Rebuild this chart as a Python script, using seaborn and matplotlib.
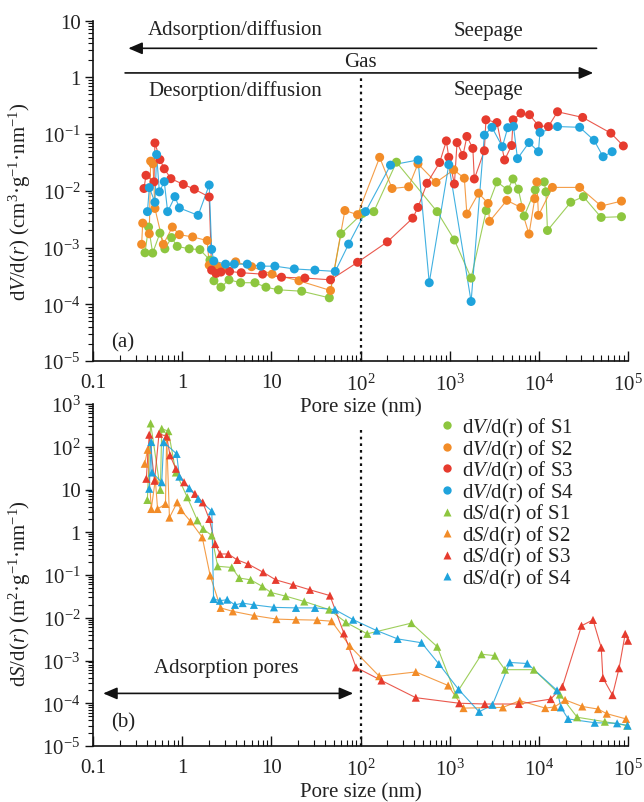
import numpy as np
import pandas as pd
import matplotlib
matplotlib.use("Agg")
import matplotlib.pyplot as plt
import seaborn as sns
from matplotlib.lines import Line2D
from matplotlib.ticker import FixedLocator, FixedFormatter, LogLocator, NullFormatter

# ---------------- data ----------------
samples = ["S1", "S2", "S3", "S4"]
colors = ["#8dc63f", "#f28c28", "#e63b2e", "#1fa3dc"]

# panel (a): dV/d(r)
v_x_s1 = [0.383, 0.42, 0.467, 0.563, 0.64, 0.76, 0.88, 1.2, 1.58, 2.05, 2.27, 2.72, 3.35, 4.52, 6.55, 8.7, 12.0, 21.9, 44.7, 60.3,
          105, 141, 253, 723, 1130, 1740, 2570, 3390, 4480, 5130, 5890, 6850, 9100, 11500, 12000, 12500, 22800, 31600, 50000, 84500]
v_y_s1 = [8.1e-4, 2.3e-3, 8.0e-4, 1.8e-3, 9.5e-4, 1.5e-3, 1.05e-3, 9.5e-4, 9.2e-4, 6.0e-4, 2.6e-4, 2.0e-4, 2.7e-4, 2.4e-4, 2.4e-4,
          2.0e-4, 1.8e-4, 1.7e-4, 1.3e-4, 1.75e-3, 4.0e-3, 4.3e-3, 0.032, 4.3e-3, 1.36e-3, 2.9e-4, 4.5e-3, 0.0144, 0.0104, 0.0162,
          0.0107, 3.6e-3, 0.0104, 0.0144, 9.6e-3, 2.0e-3, 6.3e-3, 7.9e-3, 3.4e-3, 3.5e-3]

v_x_s2 = [0.351, 0.361, 0.428, 0.443, 0.47, 0.495, 0.615, 0.776, 0.93, 1.31, 1.91, 2.01, 2.5, 3.0, 3.98, 6.0, 10.2, 20.4, 46.1, 66.8,
          92.7, 164, 226, 347, 441, 703, 1110, 1460, 1560, 2110, 2700, 2800, 4370, 6290, 7760, 9000, 9500, 9900, 14200, 28700, 50000, 84500]
v_y_s2 = [1.14e-3, 2.7e-3, 1.75e-3, 0.0334, 0.03, 4.9e-3, 1.14e-3, 2.3e-3, 1.69e-3, 1.54e-3, 1.33e-3, 4.9e-4, 4.6e-4, 4.4e-4, 5.6e-4,
          4.6e-4, 3.4e-4, 2.6e-4, 1.75e-4, 4.5e-3, 3.8e-3, 0.039, 0.011, 0.0118, 0.030, 0.0141, 0.0235, 0.0167, 3.9e-3, 9.1e-3,
          6.0e-3, 2.9e-3, 6.8e-3, 5.1e-3, 1.73e-3, 7.3e-3, 0.0144, 3.7e-3, 0.0115, 0.0115, 5.4e-3, 6.6e-3]

v_x_s3 = [0.373, 0.393, 0.483, 0.495, 0.563, 0.63, 0.748, 1.03, 1.37, 2.01, 2.14, 2.4, 2.72, 3.4, 4.6, 7.98, 13.0, 23.8, 46.1, 92.7,
          200, 385, 441, 557, 772, 918, 977, 1130, 1210, 1410, 1560, 1820, 1890, 2450, 2550, 3390, 4130, 4950, 5150, 6290, 7870,
          9900, 12800, 16200, 31000, 64300, 88700]
v_y_s3 = [0.011, 0.0188, 0.0144, 0.070, 0.0356, 0.0245, 0.0164, 0.013, 0.0107, 7.8e-3, 4.0e-4, 3.5e-4, 3.7e-4, 3.8e-4, 3.6e-4,
          3.4e-4, 3.0e-4, 2.9e-4, 2.7e-4, 5.5e-4, 1.26e-3, 3.3e-3, 5.1e-3, 0.0136, 0.0316, 0.076, 0.039, 0.0132, 0.071, 0.042,
          0.091, 0.056, 0.0162, 0.051, 0.179, 0.16, 0.035, 0.063, 0.179, 0.234, 0.22, 0.14, 0.136, 0.248, 0.197, 0.104, 0.062]

v_x_s4 = [0.408, 0.428, 0.495, 0.517, 0.555, 0.63, 0.687, 0.83, 0.93, 1.51, 2.01, 2.14, 2.26, 3.07, 3.84, 5.37, 7.64, 10.96, 18.1,
          30.8, 52.1, 73.6, 114, 217, 442, 590, 977, 1740, 2450, 2980, 3900, 4480, 5200, 5760, 7760, 9900, 10300, 16200, 28700,
          41600, 52600, 66400]
v_y_s4 = [4.3e-3, 0.0114, 6.3e-3, 0.0437, 9.6e-3, 0.0145, 4.3e-3, 7.9e-3, 5.0e-3, 3.7e-3, 0.0127, 9.3e-4, 5.8e-4, 5.1e-4, 5.1e-4,
          5.1e-4, 4.7e-4, 4.7e-4, 4.2e-4, 4.0e-4, 3.8e-4, 1.15e-3, 4.3e-3, 0.0284, 0.035, 2.4e-4, 0.029, 1.12e-4, 0.096, 0.132,
          0.06, 0.13, 0.137, 0.037, 0.071, 0.049, 0.107, 0.136, 0.132, 0.078, 0.04, 0.049]

# panel (b): dS/d(r)
s_x_s1 = [0.407, 0.443, 0.57, 0.59, 0.70, 0.85, 1.14, 1.48, 1.72, 2.14, 2.5, 3.6, 4.37, 5.86, 7.94, 9.9, 14.5, 23.4, 44.6, 68.6,
          119, 373, 725, 1170, 2280, 3210, 4170, 8800, 17200, 26900, 55000, 98000]
s_y_s1 = [5.7, 351, 9.8, 264, 232, 25, 6.6, 1.9, 1.2, 0.84, 0.16, 0.15, 0.085, 0.077, 0.054, 0.039, 0.032, 0.024, 0.0155, 7.8e-3,
          4.2e-3, 7.5e-3, 2.1e-3, 1.6e-4, 1.4e-3, 1.3e-3, 6.1e-4, 6.1e-4, 1.6e-4, 4.7e-5, 3.7e-5, 3.0e-5]

s_x_s2 = [0.38, 0.41, 0.45, 0.50, 0.53, 0.65, 0.67, 0.72, 0.88, 0.97, 1.24, 1.68, 2.06, 2.7, 3.7, 6.45, 11.4, 18.9, 32.7, 47.4,
          75.6, 162, 417, 962, 1430, 3950, 6120, 11800, 15000, 19700, 30700, 46200, 57800, 95000]
s_y_s2 = [40, 85, 3.5, 17, 3.5, 4.6, 168, 2.2, 5.0, 3.3, 1.8, 0.76, 0.097, 0.017, 0.0141, 0.0112, 9.3e-3, 9.0e-3, 8.8e-3, 8.3e-3,
          2.2e-3, 4.3e-4, 5.4e-4, 2.6e-4, 7.7e-5, 8.0e-5, 1.15e-4, 7.7e-5, 8.2e-5, 1.2e-4, 8.4e-5, 7.3e-5, 5.7e-5, 4.3e-5]

s_x_s3 = [0.396, 0.427, 0.49, 0.55, 0.67, 0.73, 0.85, 1.05, 1.39, 1.7, 2.01, 2.35, 2.66, 3.29, 4.15, 5.5, 8.1, 11.2, 17.6, 27.1,
          45.4, 65.2, 89, 172, 417, 1280, 2480, 5970, 13600, 18400, 30100, 40500, 50100, 52300, 67000, 79400, 93000, 100000]
s_y_s3 = [17.8, 191, 16, 201, 175, 63, 30.5, 14.8, 7.9, 5.0, 2.05, 0.53, 0.31, 0.31, 0.225, 0.18, 0.116, 0.077, 0.059, 0.045,
          0.033, 4.3e-3, 6.9e-4, 3.4e-4, 1.35e-4, 1.0e-4, 9.6e-5, 9.6e-5, 1.25e-4, 2.45e-4, 6.5e-3, 8.9e-3, 2.0e-3, 3.9e-4,
          1.55e-4, 6.6e-4, 4.2e-3, 2.9e-3]

s_x_s4 = [0.427, 0.45, 0.46, 0.59, 0.62, 0.867, 0.93, 1.2, 1.51, 2.15, 2.25, 2.65, 3.2, 3.91, 4.77, 6.38, 10.7, 18.9, 30.9, 51.6,
          82.8, 152, 261, 484, 757, 1260, 2140, 3020, 4730, 7420, 16000, 17700, 21300, 42400, 75500, 99000]
s_y_s4 = [10.4, 129, 25, 14.8, 128, 68, 20, 10.7, 6.05, 3.1, 0.0275, 0.025, 0.0265, 0.02, 0.022, 0.02, 0.0175, 0.017, 0.017, 0.0155,
          9.0e-3, 5.0e-3, 3.2e-3, 2.6e-3, 8.3e-4, 2.1e-4, 6.3e-5, 9.2e-5, 9.0e-4, 8.5e-4, 2.0e-4, 8e-5, 4.3e-5, 3.5e-5, 3.4e-5, 3.0e-5]

x_ticks = [0.1, 1, 10, 1e2, 1e3, 1e4, 1e5]
x_ticklabels = ["0.1", "1", "10", r"$\mathregular{10^{2}}$", r"$\mathregular{10^{3}}$",
                r"$\mathregular{10^{4}}$", r"$\mathregular{10^{5}}$"]
ya_ticks = [1e-5, 1e-4, 1e-3, 1e-2, 1e-1, 1, 10]
ya_ticklabels = [r"$\mathregular{10^{-5}}$", r"$\mathregular{10^{-4}}$", r"$\mathregular{10^{-3}}$",
                 r"$\mathregular{10^{-2}}$", r"$\mathregular{10^{-1}}$", "1", "10"]
yb_ticks = [1e-5, 1e-4, 1e-3, 1e-2, 1e-1, 1, 10, 1e2, 1e3]
yb_ticklabels = ya_ticklabels[:-1] + ["10", r"$\mathregular{10^{2}}$", r"$\mathregular{10^{3}}$"]

# ---------------- style ----------------
sns.set_theme(style="ticks")
plt.rcParams["font.family"] = ["Liberation Serif", "DejaVu Serif"]
plt.rcParams["mathtext.fontset"] = "custom"
plt.rcParams["mathtext.rm"] = "Liberation Serif"
plt.rcParams["mathtext.it"] = "Liberation Serif:italic"
plt.rcParams["mathtext.bf"] = "Liberation Serif:bold"
TXT = "#222222"
FS = 15

fig = plt.figure(figsize=(6.44, 8.03), dpi=100)
W, H = 644.0, 803.0
ax1 = fig.add_axes([93 / W, 1 - 362 / H, 535 / W, (362 - 21.7) / H])
ax2 = fig.add_axes([93 / W, 1 - 747 / H, 535 / W, (747 - 405) / H])
ax2.patch.set_visible(False)
ax1.patch.set_visible(False)

pal = dict(zip(samples, colors))


def build(xs, ys):
    parts = [pd.DataFrame({"size": x, "val": y, "sample": s}) for x, y, s in zip(xs, ys, samples)]
    return pd.concat(parts, ignore_index=True)


df_v = build([v_x_s1, v_x_s2, v_x_s3, v_x_s4], [v_y_s1, v_y_s2, v_y_s3, v_y_s4])
df_s = build([s_x_s1, s_x_s2, s_x_s3, s_x_s4], [s_y_s1, s_y_s2, s_y_s3, s_y_s4])

for ax, df, mk, sz, ylim in [(ax1, df_v, "o", 42, (1e-5, 10)), (ax2, df_s, "^", 34, (1e-5, 1e3))]:
    ax.set_xscale("log")
    ax.set_yscale("log")
    sns.lineplot(data=df, x="size", y="val", hue="sample", palette=pal, estimator=None, sort=True,
                 legend=False, linewidth=0.8, alpha=0.85, ax=ax)
    sns.scatterplot(data=df, x="size", y="val", hue="sample", palette=pal, marker=mk, s=sz,
                    linewidth=0, legend=False, ax=ax, zorder=3, clip_on=False)
    ax.set_xlim(0.1, 1e5)
    ax.set_ylim(*ylim)
    ax.xaxis.set_major_locator(FixedLocator(x_ticks))
    ax.xaxis.set_major_formatter(FixedFormatter(x_ticklabels))
    ax.xaxis.set_minor_locator(LogLocator(base=10, subs=np.arange(2, 10), numticks=100))
    ax.xaxis.set_minor_formatter(NullFormatter())
    ax.yaxis.set_minor_locator(LogLocator(base=10, subs=np.arange(2, 10), numticks=100))
    ax.yaxis.set_minor_formatter(NullFormatter())
    ax.tick_params(axis="x", which="major", direction="in", length=7, width=1.0, pad=9,
                   labelsize=FS, colors="#111111", labelcolor=TXT)
    ax.tick_params(axis="x", which="minor", direction="in", length=4, width=0.8, colors="#111111")
    ax.tick_params(axis="y", which="major", direction="out", length=6, width=1.0, pad=3,
                   labelsize=FS, colors="#111111", labelcolor=TXT)
    ax.tick_params(axis="y", which="minor", direction="out", length=3.5, width=0.8, colors="#111111")
    sns.despine(ax=ax)
    for sp in ("left", "bottom"):
        ax.spines[sp].set_linewidth(1.2)
        ax.spines[sp].set_color("#111111")
    ax.set_xlabel("Pore size (nm)", fontsize=FS, color=TXT, labelpad=2)
    ax.axvline(100, ymin=0, ymax=(0.835 if ax is ax1 else 0.924), color="#111111",
               linestyle=(0, (1.2, 1.8)), linewidth=1.6, zorder=1)

ax1.yaxis.set_major_locator(FixedLocator(ya_ticks))
ax1.yaxis.set_major_formatter(FixedFormatter(ya_ticklabels))
ax2.yaxis.set_major_locator(FixedLocator(yb_ticks))
ax2.yaxis.set_major_formatter(FixedFormatter(yb_ticklabels))

ax1.set_ylabel(r"d$\mathit{V}$/d($\mathit{r}$) (cm$^{3}$·g$^{-1}$·nm$^{-1}$)", fontsize=FS, color=TXT)
ax2.set_ylabel(r"d$\mathit{S}$/d($\mathit{r}$) (m$^{2}$·g$^{-1}$·nm$^{-1}$)", fontsize=FS, color=TXT)
ax1.yaxis.set_label_coords(-0.112, 0.47)
ax2.yaxis.set_label_coords(-0.112, 0.45)

# ---------------- annotations panel (a) ----------------
arrow_kw = dict(arrowstyle="-|>,head_length=0.7,head_width=0.3", color="#111111", lw=1.2,
                shrinkA=0, shrinkB=0, mutation_scale=12)
ax1.annotate("", xy=(0.249, 3.26), xytext=(44400, 3.26), arrowprops=arrow_kw)
ax1.annotate("", xy=(40700, 1.2), xytext=(0.229, 1.2), arrowprops=arrow_kw)
ax1.text(3.96, 7.0, "Adsorption/diffusion", fontsize=FS, color=TXT, ha="center", va="center")
ax1.text(2700, 6.8, "Seepage", fontsize=FS, color=TXT, ha="center", va="center")
ax1.text(101, 1.9, "Gas", fontsize=FS, color=TXT, ha="center", va="center")
ax1.text(3.96, 0.6, "Desorption/diffusion", fontsize=FS, color=TXT, ha="center", va="center")
ax1.text(2700, 0.6, "Seepage", fontsize=FS, color=TXT, ha="center", va="center")
ax1.text(0.055, 0.056, "(a)", transform=ax1.transAxes, fontsize=FS, color=TXT, ha="center", va="center")

# ---------------- annotations panel (b) ----------------
ax2.annotate("", xy=(0.130, 1.7e-4), xytext=(82.8, 1.7e-4),
             arrowprops=dict(arrowstyle="<|-|>,head_length=0.7,head_width=0.3", color="#111111", lw=1.2,
                             shrinkA=0, shrinkB=0, mutation_scale=12))
ax2.text(3.1, 7.0e-4, "Adsorption pores", fontsize=FS, color=TXT, ha="center", va="center")
ax2.text(0.056, 0.07, "(b)", transform=ax2.transAxes, fontsize=FS, color=TXT, ha="center", va="center")

handles = []
for s, c in zip(samples, colors):
    handles.append(Line2D([], [], linestyle="none", marker="o", markersize=6, markerfacecolor=c,
                          markeredgecolor="none", label=r"d$\mathit{V}$/d(r) of " + s))
for s, c in zip(samples, colors):
    handles.append(Line2D([], [], linestyle="none", marker="^", markersize=6, markerfacecolor=c,
                          markeredgecolor="none", label=r"d$\mathit{S}$/d(r) of " + s))
leg = ax2.legend(handles=handles, loc="upper left", bbox_to_anchor=(439 / W, 1 - 417 / H),
                 bbox_transform=fig.transFigure, frameon=False, fontsize=FS, handlelength=0.8,
                 handletextpad=0.3, labelspacing=-0.07, borderpad=0, borderaxespad=0)
for t in leg.get_texts():
    t.set_color(TXT)

fig.savefig("out.png", dpi=100)
